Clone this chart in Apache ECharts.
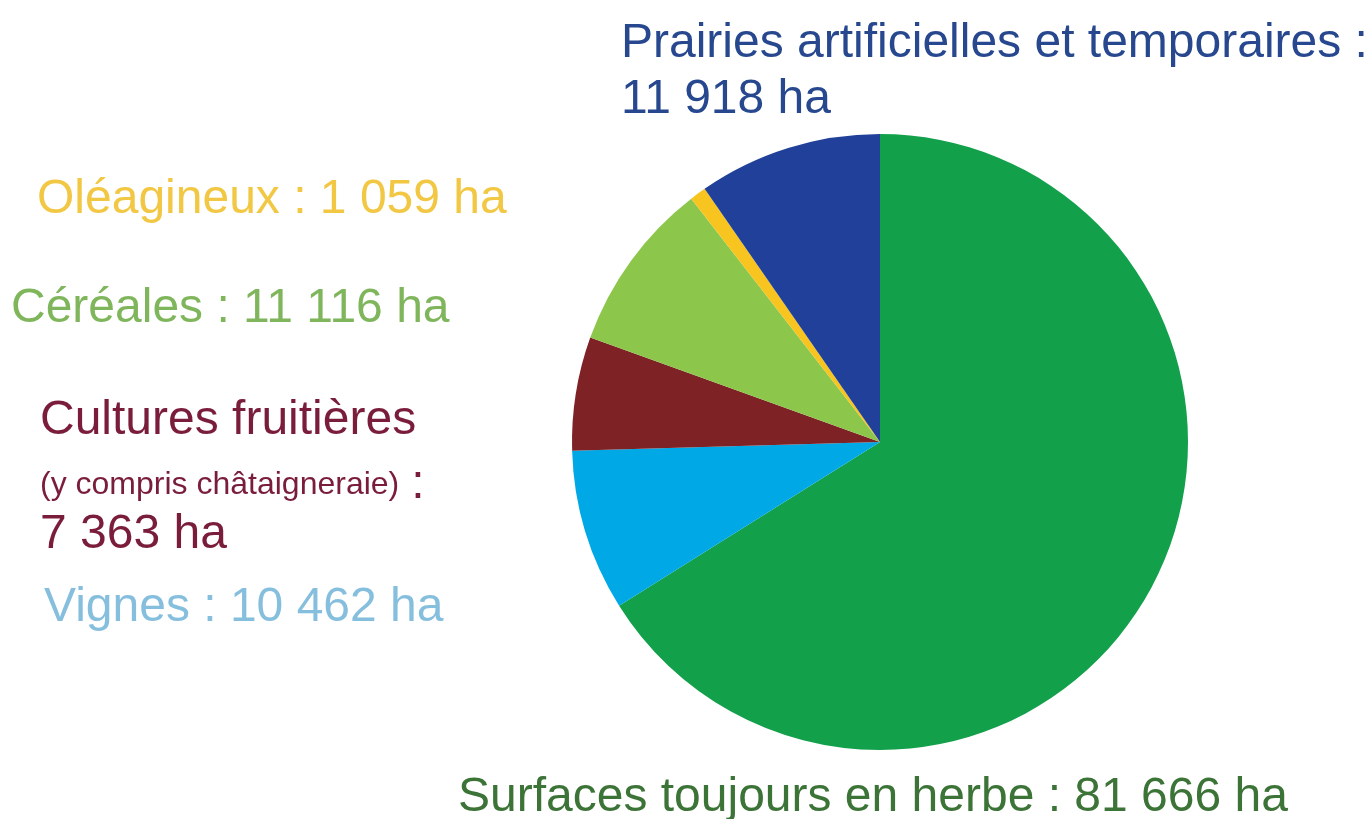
<!DOCTYPE html>
<html>
<head>
<meta charset="utf-8">
<script src="https://cdn.jsdelivr.net/npm/echarts@6/dist/echarts.min.js"></script>
<style>
html,body{margin:0;padding:0;background:#fff;}
#chart{width:1368px;height:819px;}
</style>
</head>
<body>
<div id="chart"></div>
<script>
// ---- Data ----
const categories = [
  "Surfaces toujours en herbe",
  "Vignes",
  "Cultures fruitières",
  "Céréales",
  "Oléagineux",
  "Prairies artificielles et temporaires"
];
const values = [81666, 10462, 7363, 11116, 1059, 11918];
const unit = "ha";
const noteFruits = "(y compris châtaigneraie)";

// ---- Styles ----
const sliceColors = ["#12a04b", "#00a8e6", "#7e2226", "#8cc74b", "#f8c41f", "#21409a"];
const labelColors = ["#3c7337", "#86bfde", "#7a1d3a", "#7fb65c", "#f2c743", "#27488e"];
const labelPos = [
  [458, 798],
  [44, 608],
  [40, 471],
  [11, 309],
  [37, 200],
  [621, 72]
];
const FONT = "Arial, 'Liberation Sans', Helvetica, sans-serif";

function fmt(v) {
  return String(v).replace(/\B(?=(\d{3})+(?!\d))/g, " ");
}

const FS = 48;
const data = categories.map((name, i) => {
  const col = labelColors[i];
  const rich = {
    a: { fontSize: FS, lineHeight: 56, color: col, fontFamily: FONT },
    t: { fontSize: FS, lineHeight: 72, color: col, fontFamily: FONT },
    s: { fontSize: 32, lineHeight: 56, color: col, fontFamily: FONT },
    b: { fontSize: FS, lineHeight: 56, color: col, fontFamily: FONT, padding: [0, 0, 0, 12] },
    c: { fontSize: FS, lineHeight: 44, color: col, fontFamily: FONT }
  };
  return {
    name: name,
    value: values[i],
    itemStyle: { color: sliceColors[i] },
    label: { rich: rich }
  };
});

function labelText(p) {
  const i = p.dataIndex;
  const v = fmt(p.value) + " " + unit;
  if (i === 5) return "{a|" + p.name + " :}\n{a|" + v + "}";
  if (i === 2) return "{t|" + p.name + "}\n{s|" + noteFruits + "}{b|:}\n{c|" + v + "}";
  return "{a|" + p.name + " : " + v + "}";
}

const chart = echarts.init(document.getElementById("chart"), null, { renderer: "canvas" });
chart.setOption({
  animation: false,
  backgroundColor: "#ffffff",
  textStyle: { fontFamily: FONT },
  series: [{
    type: "pie",
    center: [880, 442],
    radius: [0, 308],
    startAngle: 90,
    clockwise: true,
    avoidLabelOverlap: false,
    silent: true,
    itemStyle: { borderWidth: 0 },
    label: {
      show: true,
      position: "outside",
      formatter: labelText,
      fontFamily: FONT,
      fontSize: FS
    },
    labelLine: { show: false },
    labelLayout: function (p) {
      const pos = labelPos[p.dataIndex];
      return { x: pos[0], y: pos[1], align: "left", verticalAlign: "middle" };
    },
    data: data
  }]
});
</script>
</body>
</html>
